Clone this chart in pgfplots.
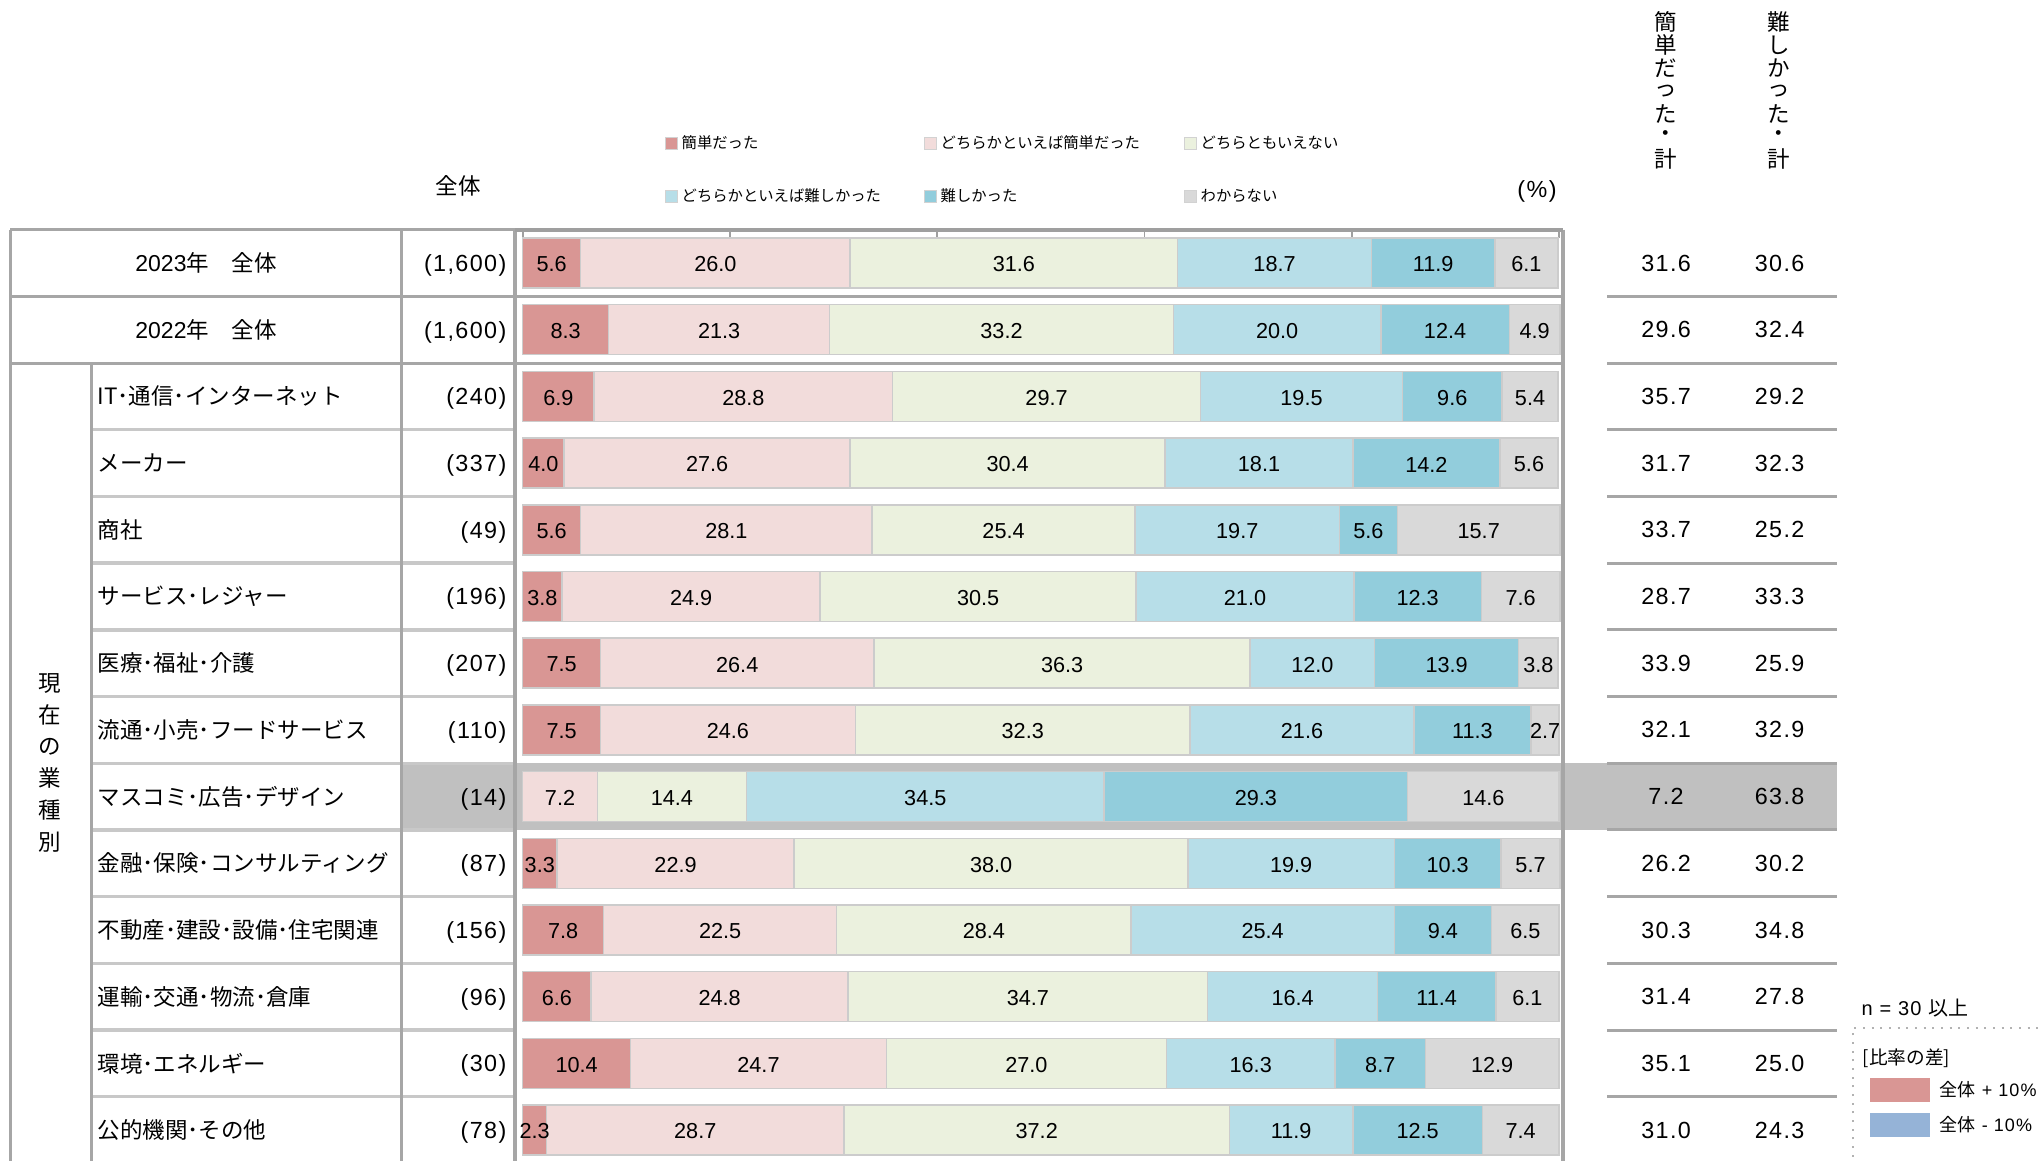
\documentclass[border=0pt]{standalone}
\usepackage{pgfplots}
\usepackage{pgfplotstable}
\pgfplotsset{compat=1.18}
\usepackage{fontspec}
\setmainfont{Liberation Sans}
\newfontfamily\jp{Noto Sans CJK JP}
\newfontfamily\numf[LetterSpace=6]{Liberation Sans}

\definecolor{c1}{HTML}{D99694}
\definecolor{c2}{HTML}{F2DCDB}
\definecolor{c3}{HTML}{EBF1DE}
\definecolor{c4}{HTML}{B7DEE8}
\definecolor{c5}{HTML}{92CDDC}
\definecolor{c6}{HTML}{D9D9D9}
\definecolor{hl}{HTML}{C0C0C0}
\definecolor{vline}{HTML}{A6A6A6}
\definecolor{hline}{HTML}{C8C8C8}
\definecolor{minus}{HTML}{95B3D7}

\newcommand\barfont{\fontsize{6.5pt}{7pt}\selectfont}
\newcommand\totfont{\numf\fontsize{7pt}{8pt}\selectfont}
\newcommand\labfont{\jp\fontsize{6.75pt}{8pt}\selectfont}

\pgfplotstableread{
row n a b c d e f easy hard
0 (1,600) 5.6 26.0 31.6 18.7 11.9 6.1 31.6 30.6
1 (1,600) 8.3 21.3 33.2 20.0 12.4 4.9 29.6 32.4
2 (240) 6.9 28.8 29.7 19.5 9.6 5.4 35.7 29.2
3 (337) 4.0 27.6 30.4 18.1 14.2 5.6 31.7 32.3
4 (49) 5.6 28.1 25.4 19.7 5.6 15.7 33.7 25.2
5 (196) 3.8 24.9 30.5 21.0 12.3 7.6 28.7 33.3
6 (207) 7.5 26.4 36.3 12.0 13.9 3.8 33.9 25.9
7 (110) 7.5 24.6 32.3 21.6 11.3 2.7 32.1 32.9
8 (14) 0 7.2 14.4 34.5 29.3 14.6 7.2 63.8
9 (87) 3.3 22.9 38.0 19.9 10.3 5.7 26.2 30.2
10 (156) 7.8 22.5 28.4 25.4 9.4 6.5 30.3 34.8
11 (96) 6.6 24.8 34.7 16.4 11.4 6.1 31.4 27.8
12 (30) 10.4 24.7 27.0 16.3 8.7 12.9 35.1 25.0
13 (78) 2.3 28.7 37.2 11.9 12.5 7.4 31.0 24.3
}\data
\pgfplotstablecreatecol[expr={\thisrow{a}/2}]{ma}\data
\pgfplotstablecreatecol[expr={\thisrow{a}+\thisrow{b}/2}]{mb}\data
\pgfplotstablecreatecol[expr={\thisrow{a}+\thisrow{b}+\thisrow{c}/2}]{mc}\data
\pgfplotstablecreatecol[expr={\thisrow{a}+\thisrow{b}+\thisrow{c}+\thisrow{d}/2}]{md}\data
\pgfplotstablecreatecol[expr={\thisrow{a}+\thisrow{b}+\thisrow{c}+\thisrow{d}+\thisrow{e}/2}]{me}\data
\pgfplotstablecreatecol[expr={\thisrow{a}+\thisrow{b}+\thisrow{c}+\thisrow{d}+\thisrow{e}+\thisrow{f}/2}]{mf}\data

\pgfplotsset{
  overlay/.style={
    at={(156.81pt,-68.9pt)}, anchor=north west,
    scale only axis, width=310.9pt, height=280.14pt,
    xmin=0, xmax=100, ymin=-0.5, ymax=13.5, y dir=reverse,
    axis lines=none, clip=false,
  }
}

\begin{document}
\begin{tikzpicture}
\useasboundingbox (0,0) rectangle (612.6pt,-348pt);
\clip (0,0) rectangle (612.6pt,-348pt);

\begin{scope}[x=0.3pt,y=-0.3pt]
  % highlighted row band
  \fill[hl] (401,763.25) rectangle (1837,829.95);
  % right table lines
  \foreach \i in {0,...,12}
    \draw[vline, line width=0.9pt] (1607,{296.35+66.7*\i}) -- (1837,{296.35+66.7*\i});
  % left table horizontal lines
  \draw[vline, line width=0.9pt] (10,229.65) -- (515,229.65);
  \draw[vline, line width=0.9pt] (10,296.35) -- (1563,296.35);
  \draw[vline, line width=0.9pt] (10,363.05) -- (1563,363.05);
  \foreach \i in {2,...,12}
    \draw[hline, line width=1pt] (91,{296.35+66.7*\i}) -- (515,{296.35+66.7*\i});
  % verticals
  \draw[vline, line width=0.9pt] (10,229.65) -- (10,1170);
  \draw[vline, line width=0.9pt] (91,363.05) -- (91,1170);
  \draw[vline, line width=0.9pt] (401,229.65) -- (401,1170);
  \draw[vline, line width=1.2pt] (515,229.65) -- (515,1170);
  \draw[vline, line width=1.0pt] (1563,229.65) -- (1563,1170);
  % chart top border and ticks
  \draw[gray!75, line width=1pt] (515,230) -- (1563,230);
  \foreach \k in {0,...,5}
    \draw[gray!75, line width=0.5pt] ({522.7+207.26*\k},230) -- ({522.7+207.26*\k},238);
\end{scope}

\begin{axis}[overlay, xbar stacked, bar width=15pt]
  \addplot[fill=c1, draw=gray!40, line width=0.45pt] table[x=a, y=row] {\data};
  \addplot[fill=c2, draw=gray!40, line width=0.45pt] table[x=b, y=row] {\data};
  \addplot[fill=c3, draw=gray!40, line width=0.45pt] table[x=c, y=row] {\data};
  \addplot[fill=c4, draw=gray!40, line width=0.45pt] table[x=d, y=row] {\data};
  \addplot[fill=c5, draw=gray!40, line width=0.45pt] table[x=e, y=row] {\data};
  \addplot[fill=c6, draw=gray!40, line width=0.45pt] table[x=f, y=row] {\data};
\end{axis}

\begin{axis}[overlay]
  \pgfplotsinvokeforeach{a,b,c,d,e,f}{
    \addplot[draw=none, mark=none, nodes near coords, point meta=explicit symbolic,
      restrict expr to domain={\thisrow{#1}}{0.01:200},
      every node near coord/.append style={anchor=center, yshift=-0.4pt, font=\barfont, text=black, inner sep=0pt}]
      table[x=m#1, y=row, meta=#1] {\data};
  }
  \addplot[draw=none, mark=none, nodes near coords, point meta=explicit symbolic,
    every node near coord/.append style={anchor=center, font=\totfont, text=black, inner sep=0pt}]
    table[x expr=110.33, y=row, meta=easy] {\data};
  \addplot[draw=none, mark=none, nodes near coords, point meta=explicit symbolic,
    every node near coord/.append style={anchor=center, font=\totfont, text=black, inner sep=0pt}]
    table[x expr=121.28, y=row, meta=hard] {\data};
  \addplot[draw=none, mark=none, nodes near coords, point meta=explicit symbolic,
    every node near coord/.append style={anchor=east, yshift=-0.7pt, font=\totfont, text=black, inner sep=0pt}]
    table[x expr=-1.515, y=row, meta=n] {\data};
\end{axis}

\begin{scope}[x=0.3pt,y=-0.3pt]
  % row labels
  \node[font=\labfont, inner sep=0pt] at (206,263) {{\fontsize{6.9pt}{8pt}\rmfamily 2023}年　全体};
  \node[font=\labfont, inner sep=0pt] at (206,329.7) {{\fontsize{6.9pt}{8pt}\rmfamily 2022}年　全体};
  \foreach \lab [count=\i from 2] in {IT･通信･インターネット, メーカー, 商社, サービス･レジャー, 医療･福祉･介護, 流通･小売･フードサービス, マスコミ･広告･デザイン, 金融･保険･コンサルティング, 不動産･建設･設備･住宅関連, 運輸･交通･物流･倉庫, 環境･エネルギー, 公的機関･その他}
    \node[anchor=west, font=\labfont, inner sep=0pt] at (97,{263+66.7*\i}) {\lab};
  \foreach \ch [count=\k from 0] in {現,在,の,業,種,別}
    \node[font=\labfont, inner sep=0pt] at (50,{683+31.8*\k}) {\ch};
  % headers
  \node[font=\labfont, inner sep=0pt] at (458,186) {全体};
  \node[font=\totfont, inner sep=0pt] at (1537,191) {(\%)};
  \foreach \ch [count=\k from 0] in {簡,単,だ,っ,た,・,計}
    \node[font=\labfont, inner sep=0pt] at (1666,{22+22.9*\k}) {\ch};
  \foreach \ch [count=\k from 0] in {難,し,か,っ,た,・,計}
    \node[font=\labfont, inner sep=0pt] at (1779,{22+22.9*\k}) {\ch};
  % legend
  \foreach \col/\txt/\xx/\yy in {c1/簡単だった/665/143, c2/どちらかといえば簡単だった/924/143, c3/どちらともいえない/1184/143,
      c4/どちらかといえば難しかった/665/196, c5/難しかった/924/196, c6/わからない/1184/196} {
    \filldraw[fill=\col, draw=gray!35, line width=0.3pt] (\xx,{\yy-6}) rectangle ({\xx+12},{\yy+6});
    \node[anchor=west, font=\jp\fontsize{4.6pt}{5pt}\selectfont, inner sep=0pt] at ({\xx+16},\yy) {\txt};
  }
  % n note and difference legend
  \node[anchor=west, inner sep=0pt, font=\numf\fontsize{6pt}{7pt}\selectfont] at (1861,1008) {n = 30 {\jp 以上}};
  \draw[gray!60, dotted, line width=0.6pt] (1853,1200) -- (1853,1028) -- (2100,1028);
  \node[anchor=west, inner sep=0pt, font=\jp\fontsize{5.6pt}{6pt}\selectfont] at (1862,1058) {[比率の差]};
  \fill[c1] (1870,1078) rectangle (1930,1102);
  \fill[minus] (1870,1113) rectangle (1930,1137);
  \node[anchor=west, inner sep=0pt, font=\numf\fontsize{5.4pt}{6pt}\selectfont] at (1939,1090) {{\jp 全体} + 10\%};
  \node[anchor=west, inner sep=0pt, font=\numf\fontsize{5.4pt}{6pt}\selectfont] at (1939,1125) {{\jp 全体} - 10\%};
\end{scope}
\end{tikzpicture}
\end{document}
